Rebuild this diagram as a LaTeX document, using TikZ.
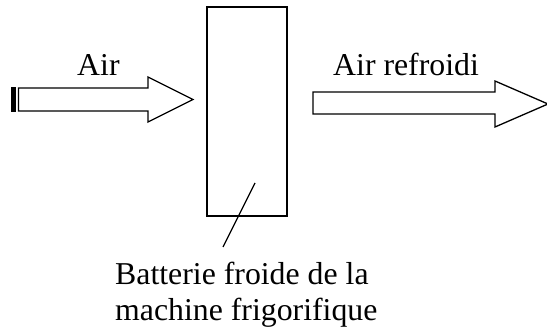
\documentclass[tikz,border=0pt]{standalone}
\usepackage{fontspec}
\setmainfont{Liberation Serif}
\begin{document}
\begin{tikzpicture}[x=1pt,y=-1pt,
  outline/.style={draw=black,line width=1.3pt,line join=miter},
  lbl/.style={inner sep=0pt,font=\fontsize{31.8}{36}\selectfont,anchor=base west}]
\useasboundingbox (0,0) rectangle (547,331);
% battery
\node[draw=black,line width=1.8pt,minimum width=80pt,minimum height=209pt,inner sep=0pt] (batt) at (247,111.5) {};
% left arrow
\draw[outline] (18.5,88) -- (148,88) -- (148,77) -- (193,99.5) -- (148,122) -- (148,111) -- (18.5,111) -- cycle;
\fill[black] (11,87.35) rectangle (15.5,111.65);
% right arrow
\draw[outline] (313,92) -- (495,92) -- (495,81) -- (548,104) -- (495,127) -- (495,114) -- (313,114) -- cycle;
% labels
\node[lbl] (air) at (77,76) {Air};
\node[lbl] (airr) at (333,76) {Air refroidi};
\node[lbl] (t1) at (115,285) {Batterie froide de la};
\node[lbl] (t2) at (115,321) {machine frigorifique};
% leader
\coordinate (la) at (255,183);
\coordinate (lb) at (223,247);
\draw[line width=1.3pt] (la) -- (lb);
\end{tikzpicture}
\end{document}
